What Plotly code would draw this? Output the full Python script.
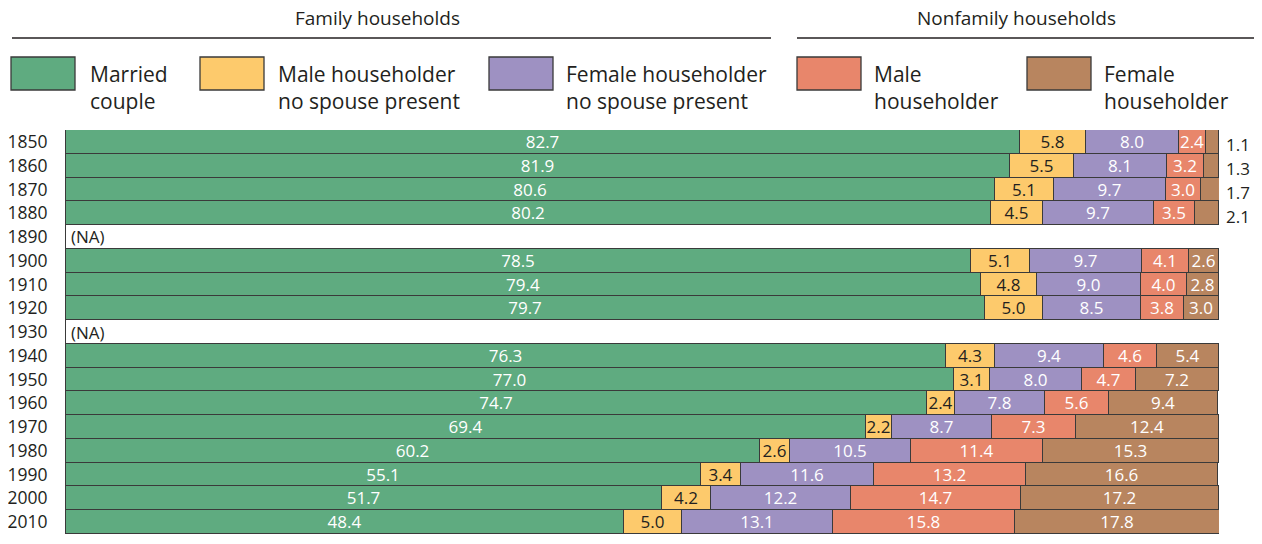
import plotly.graph_objects as go

years = ["1850", "1860", "1870", "1880", "1890", "1900", "1910", "1920", "1930",
         "1940", "1950", "1960", "1970", "1980", "1990", "2000", "2010"]
married = [82.7, 81.9, 80.6, 80.2, None, 78.5, 79.4, 79.7, None, 76.3, 77.0, 74.7, 69.4, 60.2, 55.1, 51.7, 48.4]
male_ns = [5.8, 5.5, 5.1, 4.5, None, 5.1, 4.8, 5.0, None, 4.3, 3.1, 2.4, 2.2, 2.6, 3.4, 4.2, 5.0]
female_ns = [8.0, 8.1, 9.7, 9.7, None, 9.7, 9.0, 8.5, None, 9.4, 8.0, 7.8, 8.7, 10.5, 11.6, 12.2, 13.1]
male_nf = [2.4, 3.2, 3.0, 3.5, None, 4.1, 4.0, 3.8, None, 4.6, 4.7, 5.6, 7.3, 11.4, 13.2, 14.7, 15.8]
female_nf = [1.1, 1.3, 1.7, 2.1, None, 2.6, 2.8, 3.0, None, 5.4, 7.2, 9.4, 12.4, 15.3, 16.6, 17.2, 17.8]
na_years = ["1890", "1930"]
outside_years = ["1850", "1860", "1870", "1880"]

series = [
    ("Married couple", married, "#5fab80", "white"),
    ("Male householder no spouse present", male_ns, "#fdca6c", "#231f20"),
    ("Female householder no spouse present", female_ns, "#9e91c2", "white"),
    ("Male householder", male_nf, "#e8866b", "white"),
    ("Female householder", female_nf, "#b8855f", "white"),
]

FONT = "Open Sans"
DARK = "#231f20"
OFF = 8  # default page body margin
W, H = 1262 - OFF, 544 - OFF
PL, PR, PT, PB = 66, 1219, 130, 534  # plot area in page pixels
L, R, T, B = PL - OFF, W - (PR - OFF), PT - OFF, H - (PB - OFF)

def px_x(p):
    return (p - PL) / (PR - PL)

def px_y(p):
    return (PB - p) / (PB - PT)

fig = go.Figure()
for name, vals, color, tcol in series:
    texts = []
    for y, v in zip(years, vals):
        if v is None:
            texts.append("")
        elif name == "Female householder" and y in outside_years:
            texts.append("")
        else:
            texts.append(f"{v:.1f}")
    fig.add_trace(go.Bar(
        y=years, x=vals, name=name, orientation="h",
        marker=dict(color=color, line=dict(color="#3a3a3a", width=1)),
        text=texts, textposition="inside", insidetextanchor="middle",
        textfont=dict(color=tcol, size=17, family=FONT),
        hoverinfo="skip", showlegend=False,
    ))

annotations = []
for y, v in zip(years, female_nf):
    if y in outside_years:
        annotations.append(dict(x=100, y=years.index(y), xref="x", yref="y", text=f"{v:.1f}",
                                showarrow=False, xanchor="left", xshift=5, yshift=-3,
                                font=dict(size=17, color=DARK, family=FONT)))
for y in na_years:
    annotations.append(dict(x=0, y=years.index(y), xref="x", yref="y", text="(NA)", showarrow=False,
                            xanchor="left", xshift=3, font=dict(size=17, color=DARK, family=FONT)))

annotations.append(dict(x=px_x(377), y=px_y(18), xref="paper", yref="paper",
                        text="Family households", showarrow=False, xanchor="center", yanchor="middle",
                        font=dict(size=19, color=DARK, family=FONT)))
annotations.append(dict(x=px_x(1016), y=px_y(18), xref="paper", yref="paper",
                        text="Nonfamily households", showarrow=False, xanchor="center", yanchor="middle",
                        font=dict(size=19, color=DARK, family=FONT)))

shapes = [
    dict(type="line", xref="paper", yref="paper", x0=px_x(12), x1=px_x(771), y0=px_y(38), y1=px_y(38),
         line=dict(color="#231f20", width=1.3)),
    dict(type="line", xref="paper", yref="paper", x0=px_x(797), x1=px_x(1262), y0=px_y(38), y1=px_y(38),
         line=dict(color="#231f20", width=1.3)),
]

legend_items = [
    (11, 88, "Married<br>couple", series[0][2]),
    (200, 276, "Male householder<br>no spouse present", series[1][2]),
    (489, 564, "Female householder<br>no spouse present", series[2][2]),
    (797, 872, "Male<br>householder", series[3][2]),
    (1027, 1102, "Female<br>householder", series[4][2]),
]
for bx, tx, label, color in legend_items:
    shapes.append(dict(type="rect", xref="paper", yref="paper",
                       x0=px_x(bx), x1=px_x(bx + 64), y0=px_y(90), y1=px_y(57),
                       fillcolor=color, line=dict(color="#3a3a3a", width=1.3)))
    annotations.append(dict(x=px_x(tx), y=px_y(88), xref="paper", yref="paper",
                            text=label, showarrow=False, xanchor="left", yanchor="middle",
                            align="left",
                            font=dict(size=21, color=DARK, family=FONT)))

fig.update_layout(
    barmode="stack", bargap=0,
    width=W, height=H,
    margin=dict(l=L, r=R, t=T, b=B, pad=0, autoexpand=False),
    paper_bgcolor="white", plot_bgcolor="white",
    xaxis=dict(range=[0, 100], visible=False, fixedrange=True, automargin=False),
    yaxis=dict(type="category", categoryorder="array", categoryarray=years,
               range=[len(years) - 0.5, -0.5], autorange=False, automargin=False,
               showgrid=False, zeroline=False, showline=True, linecolor="#3a3a3a", linewidth=1,
               ticks="", ticklabelstandoff=14,
               tickfont=dict(size=17.5, color=DARK, family=FONT)),
    uniformtext=dict(minsize=17, mode="show"),
    annotations=annotations, shapes=shapes,
    font=dict(family=FONT, color=DARK),
)

fig.write_html("out.html")
